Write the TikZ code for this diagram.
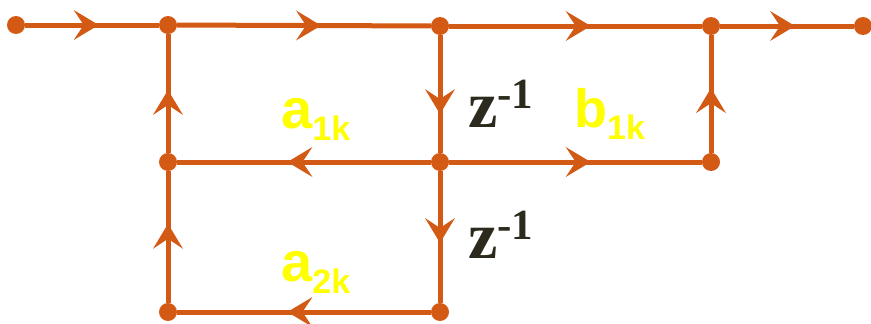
\documentclass[tikz,border=0pt]{standalone}
\usepackage{fontspec}
\setmainfont{Liberation Sans}
\newfontfamily\zfont{Liberation Serif}
\usepackage{tikz}
\usetikzlibrary{decorations.markings,arrows.meta}
\definecolor{flowline}{HTML}{D35A14}
\definecolor{coefftext}{HTML}{FFFF00}
\definecolor{delaytext}{HTML}{2B2A1C}
\newcommand{\coeffsub}[2]{\fontsize{#1}{#1}\selectfont #2}
\begin{document}
\begin{tikzpicture}[
            x=1pt, y=-1pt,
            site/.style={circle,fill=flowline,minimum size=18pt,
                inner sep=0pt, outer sep=0pt},
            flow/.style={draw=flowline,line width=5pt,postaction={decorate},
                decoration={markings,mark=at position #1 with
                {\arrow[flowline,line width=0pt]{Stealth[length=25pt,width=30pt,inset=10pt]}}}},
            flow/.default=0.55,
            coeff/.style={text=coefftext,font=\bfseries,inner sep=0pt,anchor=base west},
            delay/.style={text=delaytext,font=\zfont\bfseries,inner sep=0pt,anchor=base west}
        ]
        \useasboundingbox (0,0) rectangle (871,324);
        \node[site] (in) at (16,25) {};
        \node[site] (t1) at (168,25) {};
        \node[site] (t2) at (440,26) {};
        \node[site] (t3) at (711,26) {};
        \node[site] (out) at (863,26) {};
        \node[site] (m1) at (168,162) {};
        \node[site] (m2) at (440,162) {};
        \node[site] (m3) at (711,162) {};
        \node[site] (b1) at (168,312) {};
        \node[site] (b2) at (440,312) {};
        \draw[flow=0.55] (in) -- (t1);
        \draw[flow=0.567] (t1) -- (t2);
        \draw[flow=0.56] (t2) -- (t3);
        \draw[flow=0.56] (t3) -- (out);
        \draw[flow=0.67] (t2) -- (m2);
        \draw[flow=0.545] (m2) -- (b2);
        \draw[flow=0.53] (m1) -- (t1);
        \draw[flow=0.6] (b1) -- (m1);
        \draw[flow=0.55] (m3) -- (t3);
        \draw[flow=0.565] (m2) -- (m1);
        \draw[flow=0.56] (m2) -- (m3);
        \draw[flow=0.565] (b2) -- (b1);
        \node[coeff] (a1) at (281,128) {\coeffsub{56}{a}\raisebox{-12pt}{\coeffsub{34}{1k}}};
        \node[coeff] (a2) at (281,281) {\coeffsub{56}{a}\raisebox{-12pt}{\coeffsub{34}{2k}}};
        \node[coeff] (b1k) at (574,127) {\coeffsub{54}{b}\raisebox{-12pt}{\coeffsub{34}{1k}}};
        \node[delay] (z1) at (468,127) {\coeffsub{66}{z}\raisebox{19pt}{\coeffsub{43}{-1}}};
        \node[delay] (z2) at (468,258) {\coeffsub{66}{z}\raisebox{19pt}{\coeffsub{43}{-1}}};
    \end{tikzpicture}
\end{document}
